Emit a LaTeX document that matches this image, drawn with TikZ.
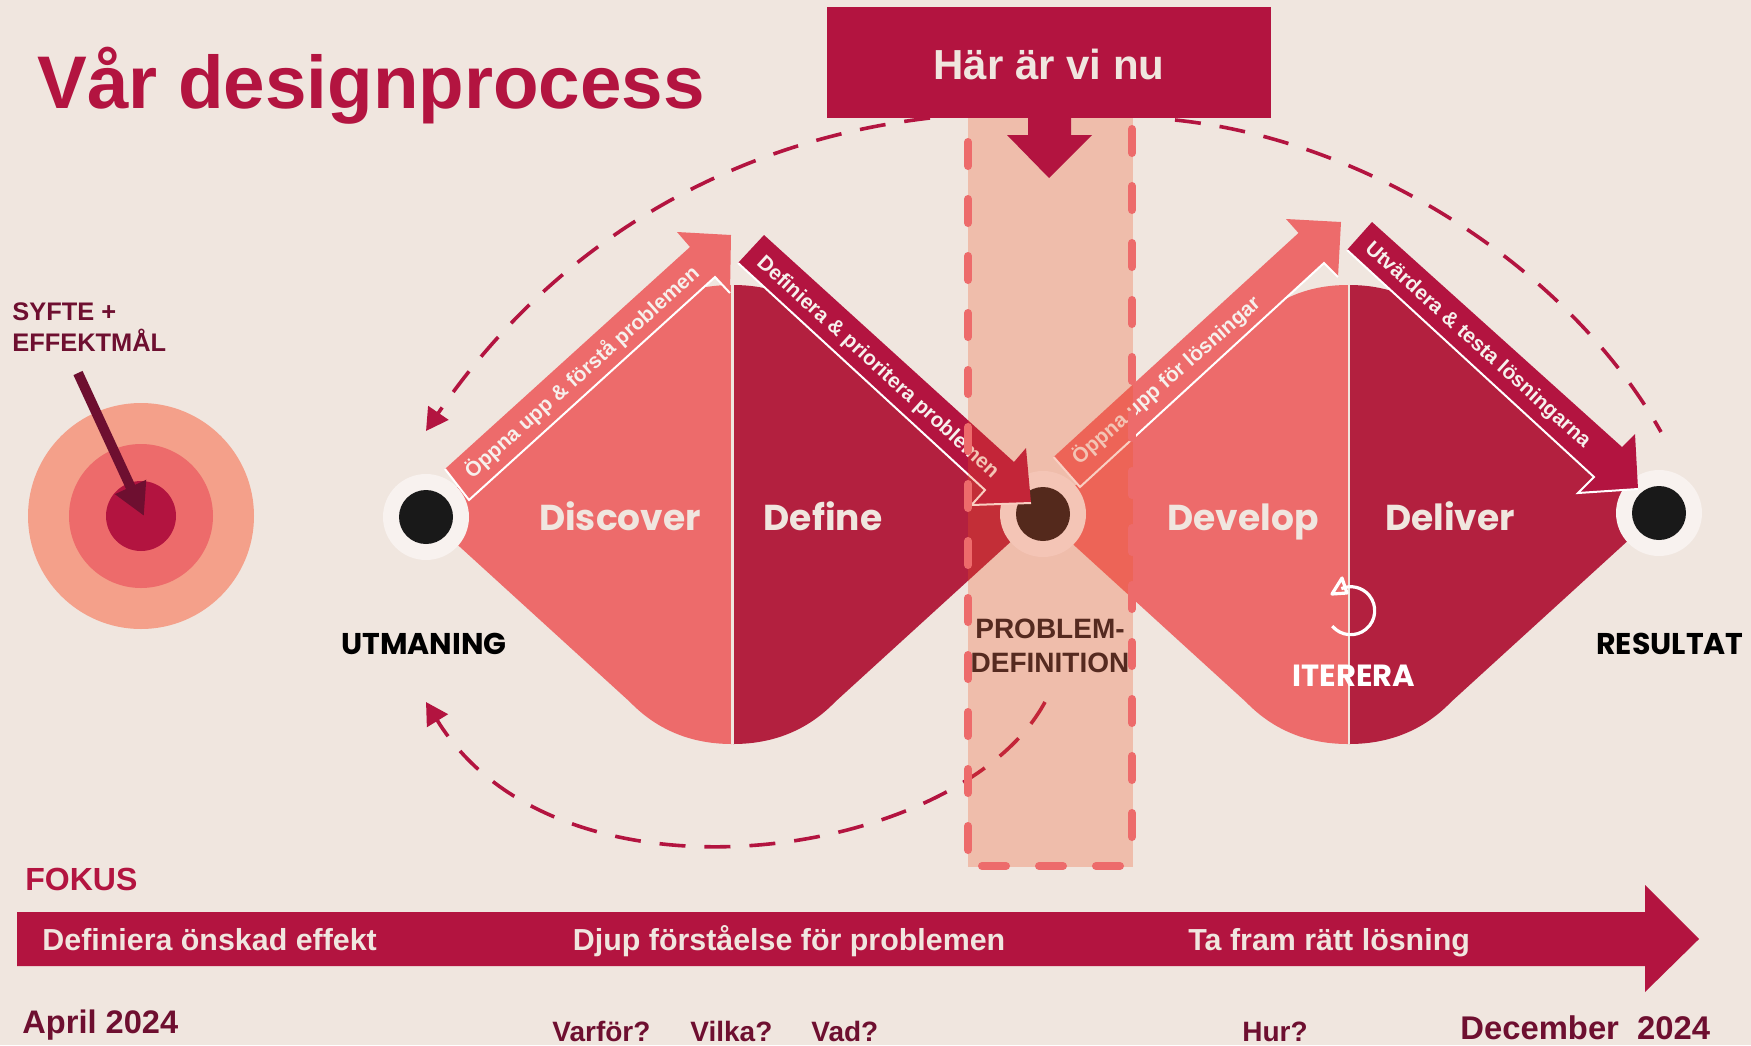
\documentclass[tikz,border=0pt]{standalone}
\usepackage{fontspec}
\setmainfont{Liberation Sans}
\newfontfamily\stagefont{Poppins}
\usetikzlibrary{positioning, arrows.meta}
\definecolor{paper}{HTML}{F0E6DF}
\definecolor{crimson}{HTML}{B31440}
\definecolor{wine}{HTML}{B3203F}
\definecolor{coral}{HTML}{ED6B6B}
\definecolor{salmon}{HTML}{F4A08A}
\definecolor{plum}{HTML}{6E0F30}
\definecolor{orange}{HTML}{ED5325}
\definecolor{umber}{HTML}{552A20}
\tikzset{
  caption/.style={font=\bfseries\fontsize{#1}{#1}\selectfont, inner sep=0pt, anchor=base west},
  stage/.style={font=\stagefont\bfseries\fontsize{18}{18}\selectfont, text=paper, inner sep=0pt, anchor=base},
  endlabel/.style={font=\stagefont\bfseries\fontsize{#1}{#1}\selectfont, inner sep=0pt, anchor=base west},
  ribbon/.style={font=\bfseries\fontsize{10.4}{10.4}\selectfont, text=paper!60!white, inner sep=0pt},
  loopline/.style={draw=crimson, line width=1.8pt, dash pattern=on 13pt off 9.5pt},
  bandline/.style={coral, line width=4pt, line cap=round, dash pattern=on 12pt off 16.5pt},
  edgeline/.style={white, line width=1pt},
  looptip/.style={-{Triangle[length=11pt,width=12pt]}}
}
\newcommand{\hubnode}[4]{\node[circle, fill=#4, minimum size=43pt, inner sep=0pt] (#1) at (#2,#3) {};
\node[circle, fill=black!90, minimum size=27pt, inner sep=0pt] at (#1) {};}
\newcommand{\halfdiamond}[3]{\fill[#3] (#1,516) -- (#1+204*#2,330) .. controls (#1+234*#2,296) and (#1+270*#2,285) .. (#1+306*#2,285) -- (#1+306*#2,744) .. controls (#1+270*#2,744) and (#1+234*#2,733) .. (#1+204*#2,702) -- cycle;}
\begin{document}
\begin{tikzpicture}[x=0.5pt, y=-0.5pt]
\useasboundingbox (0,0) rectangle (1751,1045);
\fill[paper] (0,0) rectangle (1751,1045);

\node[caption=37.3, text=crimson] (title) at (37,108) {Vår designprocess};

% target
\fill[salmon] (141,516) circle (113);
\fill[coral] (141,516) circle (72);
\fill[crimson] (141,516) circle (35);
\node[caption=12.7, text=plum] (syfte) at (12,320) {SYFTE +};
\node[caption=12.7, text=plum] (effektmal) at (12,351) {EFFEKTMÅL};
\coordinate (aimfrom) at (78,373);
\coordinate (aimto) at (144,516);
\draw[plum, line width=5pt, -{Triangle[length=16pt,width=16pt]}] (aimfrom) -- (aimto);

% diamonds
\halfdiamond{426}{1}{coral}
\halfdiamond{1039}{-1}{wine}
\halfdiamond{1042}{1}{coral}
\halfdiamond{1655}{-1}{wine}
\draw[paper, line width=1.2pt] (732.5,285) -- (732.5,744);
\draw[paper, line width=.8pt] (1349,285) -- (1349,744);

\hubnode{start}{426}{517}{paper!50!white}
\hubnode{mid}{1043}{514}{paper!50!white}
\hubnode{end}{1659}{513}{paper!50!white}

% stage arrows
\fill[coral] (445,469) -- (690,247) -- (677,232) -- (731,235) -- (730,293) -- (715,277) -- (469,500) -- cycle;
\draw[edgeline] (445,469) -- (469,500) -- (715,277) -- (730,293);
\fill[crimson] (764,235) -- (1014,462) -- (1026,448) -- (1031,503) -- (971.5,505) -- (985,490) -- (738,263) -- cycle;
\draw[edgeline] (738,263) -- (985,490) -- (971.5,505) -- (1031,503);
\fill[coral] (1053.6,457) -- (1298.5,233) -- (1286,219) -- (1341,222) -- (1338,277) -- (1324,263) -- (1080,487) -- cycle;
\draw[edgeline] (1053.6,457) -- (1080,487) -- (1324,263) -- (1338,277);
\fill[crimson] (1372,222) -- (1622,447) -- (1635,434) -- (1638,489) -- (1578,493) -- (1594,477) -- (1347,250) -- cycle;
\draw[edgeline] (1347,250) -- (1594,477) -- (1578,493) -- (1638,489);

\node[ribbon, rotate=41.8] (open1) at (582,372.5) {Öppna upp \& förstå problemen};
\node[ribbon, rotate=-42.3] (close1) at (877.5,367.5) {Definiera \& prioritera problemen};
\node[ribbon, rotate=41.3] (open2) at (1166,380.5) {Öppna upp för lösningar};
\node[ribbon, rotate=-42.1] (close2) at (1477.5,345.5) {Utvärdera \& testa lösningarna};

\node[stage] (discover) at (620,530) {Discover};
\node[stage] (define) at (823,530) {Define};
\node[stage] (develop) at (1243,530) {Develop};
\node[stage] (deliver) at (1450,530) {Deliver};

\node[endlabel=15, text=black] (utmaning) at (341,654) {UTMANING};
\node[endlabel=15, text=black] (resultat) at (1596,654) {RESULTAT};
\node[endlabel=15.3, text=white] (iterera) at (1292,686) {ITERERA};
\draw[white, line width=1.6pt] (1350.7,610.7) ++(140:24) arc[start angle=140, end angle=-113, radius=24];
\draw[white, line width=1.6pt, line join=round] (1342,578) -- (1332,594) -- (1347,593) -- cycle;

% feedback curves
\coordinate (topleft) at (426,431);
\coordinate (topright) at (1661,432);
\coordinate (boxleft) at (930,118);
\coordinate (boxright) at (1175,120);
\coordinate (lowfrom) at (1045,702);
\coordinate (lowto) at (426,702);
\draw[loopline, looptip] (boxleft) .. controls (740,140) and (560,235) .. (topleft);
\draw[loopline] (boxright) .. controls (1370,140) and (1570,270) .. (topright);
\draw[loopline, looptip] (lowfrom) .. controls (960,860) and (560,920) .. (lowto);

% band
\fill[orange, opacity=.28] (968,118) rectangle (1133,867);
\draw[bandline] (968,142) -- (968,862);
\draw[bandline] (1132,129) -- (1132,850);
\draw[bandline] (982,866) -- (1124,866);

\node[caption=14, text=umber, anchor=base] (problem) at (1050,638) {PROBLEM-};
\node[caption=14, text=umber, anchor=base] (definition) at (1050,672) {DEFINITION};

% top box
\fill[crimson] (827,7) rectangle (1271,118);
\fill[crimson] (1028,118) -- (1028,135) -- (1007,135) -- (1049,178) -- (1092,135) -- (1071,135) -- (1071,118) -- cycle;
\node[caption=21, text=paper, anchor=base] (now) at (1049,79) {Här är vi nu};

% focus arrow
\node[caption=16, text=crimson] (fokus) at (25,890) {FOKUS};
\fill[crimson] (17,912) -- (1645,912) -- (1645,885) -- (1699,939) -- (1645,992) -- (1645,966) -- (17,966) -- cycle;
\node[caption=15.2, text=paper] (effekt) at (42,950) {Definiera önskad effekt};
\node[caption=15.2, text=paper] (djup) at (572.5,950) {Djup förståelse för problemen};
\node[caption=15.2, text=paper] (losning) at (1188,950) {Ta fram rätt lösning};

\node[caption=16.3, text=plum] (april) at (22,1033) {April 2024};
\node[caption=14, text=plum] (varfor) at (552,1041) {Varför?};
\node[caption=14, text=plum] (vilka) at (690,1041) {Vilka?};
\node[caption=14, text=plum] (vad) at (811,1041) {Vad?};
\node[caption=14, text=plum] (hur) at (1242,1041) {Hur?};
\node[caption=16.4, text=plum] (december) at (1460,1039) {December\ \ 2024};

\end{tikzpicture}
\end{document}
